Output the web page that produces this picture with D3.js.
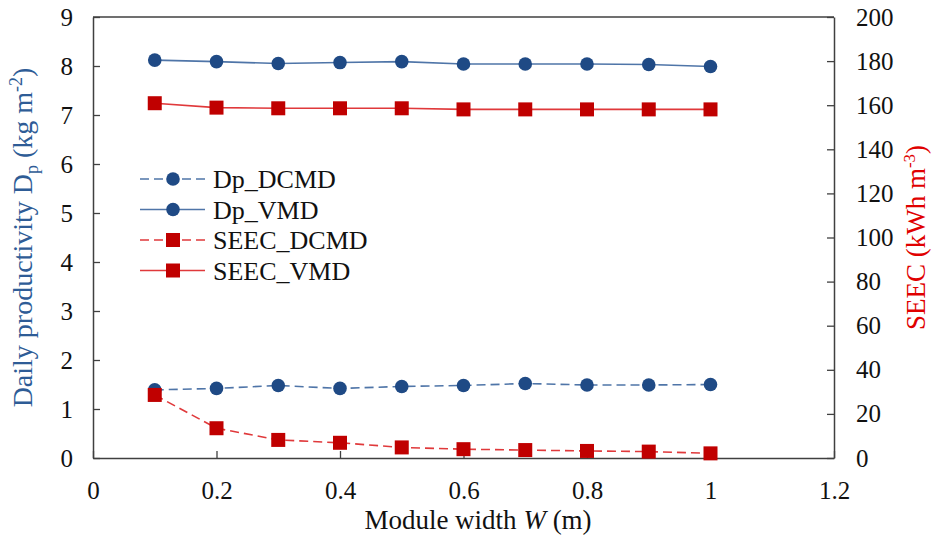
<!DOCTYPE html>
<html lang="en">
<head>
<meta charset="UTF-8">
<title>Module width vs Dp and SEEC</title>
<script src="https://d3js.org/d3.v7.min.js"></script>
<style>
    body { margin: 0; background: #fff; }
    text { font-family: "Liberation Serif", "Times New Roman", serif; }
</style>
</head>
<body>
<div id="chart"></div>
<script>
    // module width W (m)
    const widths = [0.1, 0.2, 0.3, 0.4, 0.5, 0.6, 0.7, 0.8, 0.9, 1.0];

    // daily productivity (kg m-2), left axis
    const dpDCMD = [1.39, 1.42, 1.48, 1.42, 1.46, 1.48, 1.52, 1.49, 1.49, 1.50];
    const dpVMD  = [8.12, 8.09, 8.05, 8.07, 8.09, 8.04, 8.04, 8.04, 8.03, 7.99];

    // SEEC (kWh m-3), right axis
    const seecDCMD = [28.6, 13.5, 8.2, 6.9, 4.8, 4.0, 3.6, 3.2, 2.9, 2.1];
    const seecVMD  = [160.9, 158.9, 158.6, 158.6, 158.6, 158.1, 158.1, 158.1, 158.1, 158.1];

    const xTicks = [0, 0.2, 0.4, 0.6, 0.8, 1.0, 1.2];
    const yLeftTicks = [0, 1, 2, 3, 4, 5, 6, 7, 8, 9];
    const yRightTicks = [0, 20, 40, 60, 80, 100, 120, 140, 160, 180, 200];

    const W = 932, H = 539;
    const margin = { top: 17, right: 98, bottom: 81, left: 93 };
    const iw = W - margin.left - margin.right;
    const ih = H - margin.top - margin.bottom;

    const blueMark = "#1f4a85", blueLine = "#4f75a8";
    const redMark = "#c00000", redLine = "#e0393b";
    const axisCol = "#404040";

    const svg = d3.select("#chart").append("svg")
        .attr("width", W).attr("height", H);
    const g = svg.append("g").attr("transform", `translate(${margin.left},${margin.top})`);

    const x = d3.scaleLinear().domain([0, 1.2]).range([0, iw]);
    const yL = d3.scaleLinear().domain([0, 9]).range([ih, 0]);
    const yR = d3.scaleLinear().domain([0, 200]).range([ih, 0]);

    // axes, ticks pointing inward
    const fmt = d => d3.format("~g")(d);
    function styleAxis(sel) {
        sel.select(".domain").attr("stroke", axisCol).attr("stroke-width", 1.5);
        sel.selectAll(".tick line").attr("stroke", axisCol).attr("stroke-width", 1.3);
        sel.selectAll(".tick text").attr("fill", "#111").style("font-size", "25px")
            .style("font-family", "'Liberation Serif', serif");
    }

    g.append("g").attr("transform", `translate(0,${ih})`)
        .call(d3.axisBottom(x).tickValues(xTicks).tickFormat(fmt).tickSizeInner(-7).tickSizeOuter(0).tickPadding(23))
        .call(styleAxis);
    g.append("g")
        .call(d3.axisLeft(yL).tickValues(yLeftTicks).tickFormat(fmt).tickSizeInner(-7).tickSizeOuter(0).tickPadding(20))
        .call(styleAxis);
    g.append("g").attr("transform", `translate(${iw},0)`)
        .call(d3.axisRight(yR).tickValues(yRightTicks).tickFormat(fmt).tickSizeInner(-7).tickSizeOuter(0).tickPadding(22))
        .call(styleAxis);
    // top border
    g.append("line").attr("x1", 0).attr("x2", iw).attr("y1", 0).attr("y2", 0)
        .attr("stroke", axisCol).attr("stroke-width", 1.5);

    const series = [
        { name: "Dp_DCMD", values: dpDCMD, y: yL, line: blueLine, mark: blueMark, dash: "9,5", shape: "circle" },
        { name: "Dp_VMD", values: dpVMD, y: yL, line: blueLine, mark: blueMark, dash: null, shape: "circle" },
        { name: "SEEC_DCMD", values: seecDCMD, y: yR, line: redLine, mark: redMark, dash: "9,5", shape: "square" },
        { name: "SEEC_VMD", values: seecVMD, y: yR, line: redLine, mark: redMark, dash: null, shape: "square" }
    ];

    function drawMarker(sel, s, cx, cy) {
        if (s.shape === "circle") {
            sel.append("circle").attr("cx", cx).attr("cy", cy).attr("r", 6.8).attr("fill", s.mark);
        } else {
            sel.append("rect").attr("x", cx - 7).attr("y", cy - 7).attr("width", 14).attr("height", 14).attr("fill", s.mark);
        }
    }

    series.forEach(s => {
        const pts = widths.map((w, i) => [x(w), s.y(s.values[i])]);
        g.append("path").attr("d", d3.line()(pts))
            .attr("fill", "none").attr("stroke", s.line).attr("stroke-width", 1.6)
            .attr("stroke-dasharray", s.dash);
        const mg = g.append("g");
        pts.forEach(p => drawMarker(mg, s, p[0], p[1]));
    });

    // legend
    const leg = svg.append("g").attr("transform", "translate(140,179)");
    series.forEach((s, i) => {
        const row = leg.append("g").attr("transform", `translate(0,${i * 30.5})`);
        row.append("line").attr("x1", 0).attr("x2", 65).attr("y1", 0).attr("y2", 0)
            .attr("stroke", s.line).attr("stroke-width", 1.6).attr("stroke-dasharray", s.dash);
        drawMarker(row, s, 33, 0);
        row.append("text").attr("x", 73).attr("y", 9).text(s.name)
            .style("font-size", "26px").attr("fill", "#111");
    });

    // axis titles
    const xt = svg.append("text").attr("x", 478).attr("y", 529)
        .attr("text-anchor", "middle").style("font-size", "27px").attr("fill", "#111");
    xt.append("tspan").text("Module width ");
    xt.append("tspan").style("font-style", "italic").text("W");
    xt.append("tspan").text(" (m)");

    const lt = svg.append("text")
        .attr("transform", `translate(32,${margin.top + ih / 2}) rotate(-90)`)
        .attr("text-anchor", "middle").style("font-size", "28px").attr("fill", "#2e5c96");
    lt.append("tspan").text("Daily productivity D");
    lt.append("tspan").attr("dy", 6).style("font-size", "18px").text("p");
    lt.append("tspan").attr("dy", -6).text(" (kg m");
    lt.append("tspan").attr("dy", -10).style("font-size", "18px").text("-2");
    lt.append("tspan").attr("dy", 10).text(")");

    const rt = svg.append("text")
        .attr("transform", `translate(925,${margin.top + ih / 2}) rotate(-90)`)
        .attr("text-anchor", "middle").style("font-size", "27px").attr("fill", "#e00000");
    rt.append("tspan").text("SEEC (kWh m");
    rt.append("tspan").attr("dy", -10).style("font-size", "17px").text("-3");
    rt.append("tspan").attr("dy", 10).text(")");
</script>
</body>
</html>
